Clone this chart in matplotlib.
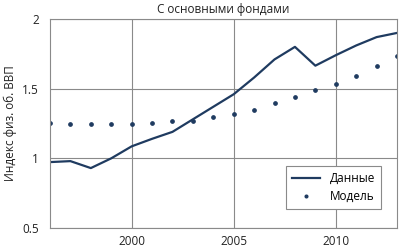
import matplotlib
matplotlib.use('Agg')
import matplotlib.pyplot as plt

plt.rcParams['font.family'] = ['Open Sans', 'DejaVu Sans']

# values
years = list(range(1996, 2014))
data = [0.973, 0.98, 0.93, 1.0, 1.086, 1.14, 1.19, 1.28, 1.37, 1.46,
        1.58, 1.71, 1.80, 1.665, 1.74, 1.81, 1.87, 1.90]
model = [1.253, 1.25, 1.245, 1.245, 1.25, 1.255, 1.268, 1.27, 1.294, 1.32,
         1.35, 1.395, 1.44, 1.49, 1.535, 1.593, 1.663, 1.734]
xticks = [2000, 2005, 2010]
yticks = [0.5, 1, 1.5, 2]

navy = '#1f3b60'

fig = plt.figure(figsize=(3.99, 2.49), dpi=100)
ax = fig.add_axes([50 / 399, 21 / 249, 347 / 399, 209 / 249])

ax.plot(years, data, color=navy, lw=1.6, label='Данные')
ax.plot(years, model, ls='none', marker='o', ms=2.4, color=navy, label='Модель')

ax.set_xlim(1996, 2013)
ax.set_ylim(0.5, 2)
ax.set_xticks(xticks)
ax.set_yticks(yticks)
ax.set_yticklabels(['0.5', '1', '1.5', '2'])
ax.grid(True, color='#8a8a8a', lw=0.8)
ax.set_axisbelow(True)
for s in ax.spines.values():
    s.set_color('#8a8a8a')
    s.set_linewidth(0.8)
ax.tick_params(length=0, labelsize=8.5, colors='#222222')
ax.tick_params(axis='x', pad=5)
ax.tick_params(axis='y', pad=8)

ax.set_ylabel('Индекс физ. об. ВВП', fontsize=8.5, color='#222222', labelpad=4)
ax.set_title('С основными фондами', fontsize=8.5, color='#222222', pad=4)

leg = ax.legend(loc='lower right', bbox_to_anchor=(0.954, 0.09), borderaxespad=0,
                fontsize=8.5, fancybox=False, edgecolor='#8a8a8a', framealpha=1,
                handlelength=2.4, borderpad=0.5, labelspacing=0.45, markerscale=0.8)
leg.get_frame().set_linewidth(0.8)

fig.savefig('out.png', dpi=100)
